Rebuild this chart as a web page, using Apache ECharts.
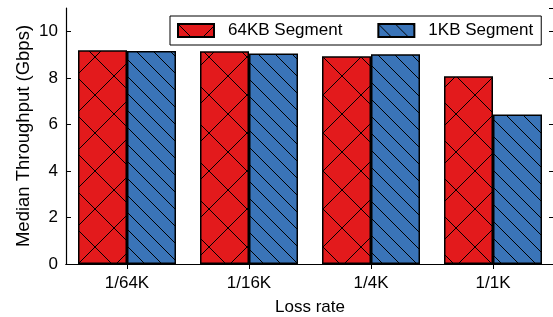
<!DOCTYPE html>
<html>
<head>
<meta charset="utf-8">
<script src="https://cdn.jsdelivr.net/npm/echarts@6/dist/echarts.min.js"></script>
<style>
  html, body { margin: 0; padding: 0; background: #fff; }
  #chart { width: 553px; height: 317px; }
</style>
</head>
<body>
<div id="chart"></div>
<script>
var categories = ['1/64K', '1/16K', '1/4K', '1/1K']
var seg64KB = [9.18, 9.14, 8.93, 8.07]
var seg1KB = [9.15, 9.04, 9.01, 6.42]
var seriesNames = ['64KB Segment', '1KB Segment']

// hatch tiles drawn on small canvases
function hatch(bg, size, cross) {
  var c = document.createElement('canvas')
  c.width = size
  c.height = size
  var ctx = c.getContext('2d')
  ctx.fillStyle = bg
  ctx.fillRect(0, 0, size, size)
  ctx.strokeStyle = '#000'
  ctx.lineWidth = 1
  ctx.beginPath()
  for (var k = -1; k <= 1; k++) {
    ctx.moveTo(k * size, 0)
    ctx.lineTo(k * size + size, size)
    if (cross) {
      ctx.moveTo(k * size, size)
      ctx.lineTo(k * size + size, 0)
    }
  }
  ctx.stroke()
  return c
}

var font = 'Liberation Sans'
var fs = 17
var chart = echarts.init(document.getElementById('chart'))

chart.setOption({
  animation: false,
  textStyle: { fontFamily: font },
  grid: { left: 66, top: 8, width: 488, height: 256, containLabel: false, outerBoundsMode: 'none' },
  legend: {
    data: seriesNames,
    icon: 'rect',
    left: 170,
    top: 16,
    padding: [6, 8, 6, 7],
    itemWidth: 36,
    itemHeight: 13,
    itemGap: 35,
    borderColor: '#000',
    borderWidth: 1,
    borderRadius: 0,
    backgroundColor: '#fff',
    textStyle: { fontSize: fs, color: '#000', fontFamily: font, padding: [0, 0, 0, 9] }
  },
  xAxis: [{
    type: 'category',
    data: categories,
    name: 'Loss rate',
    nameLocation: 'middle',
    nameGap: 35,
    nameTextStyle: { fontSize: fs, color: '#000', fontFamily: font },
    axisLine: { lineStyle: { color: '#000', width: 1.2 } },
    axisTick: { show: false },
    axisLabel: { fontSize: fs, color: '#000', margin: 11, fontFamily: font }
  }, {
    type: 'category',
    data: categories,
    position: 'top',
    axisLine: { lineStyle: { color: '#000', width: 1.2 } },
    axisTick: { show: true, inside: true, alignWithLabel: true, length: 5, lineStyle: { color: '#000' } },
    axisLabel: { show: false }
  }],
  yAxis: [{
    type: 'value',
    min: 0,
    max: 11,
    interval: 2,
    name: 'Median Throughput (Gbps)',
    nameLocation: 'middle',
    nameGap: 33,
    nameMoveOverlap: false,
    nameTextStyle: { fontSize: 18.5, color: '#000', fontFamily: font },
    axisLine: { show: true, lineStyle: { color: '#000', width: 1.2 } },
    axisTick: { show: true, inside: true, length: 5, lineStyle: { color: '#000' } },
    axisLabel: { fontSize: fs, color: '#000', margin: 8, showMaxLabel: false, fontFamily: font },
    splitLine: { show: false }
  }, {
    type: 'value',
    min: 0,
    max: 11,
    interval: 2,
    position: 'right',
    axisLine: { show: true, lineStyle: { color: '#000', width: 1.2 } },
    axisTick: { show: true, inside: true, length: 5, lineStyle: { color: '#000' } },
    axisLabel: { show: false },
    splitLine: { show: false }
  }],
  series: [{
    name: seriesNames[0],
    type: 'bar',
    data: seg64KB,
    barWidth: 49,
    barGap: '0%',
    itemStyle: {
      color: { image: hatch('#e31a1c', 38, true), repeat: 'repeat' },
      borderColor: '#000',
      borderWidth: 1.5
    }
  }, {
    name: seriesNames[1],
    type: 'bar',
    data: seg1KB,
    barWidth: 49,
    barGap: '0%',
    itemStyle: {
      color: { image: hatch('#3a74b8', 17, false), repeat: 'repeat' },
      borderColor: '#000',
      borderWidth: 1.5
    }
  }]
})
</script>
</body>
</html>
